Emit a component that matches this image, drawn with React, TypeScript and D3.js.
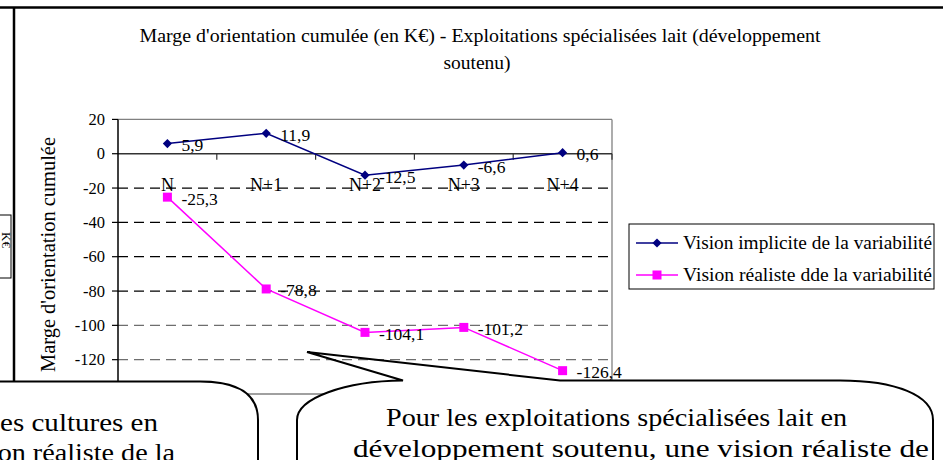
import React from "react";
import * as d3 from "d3";

// ---- data ----
const categories = ["N", "N+1", "N+2", "N+3", "N+4"];
const implicitValues = [5.9, 11.9, -12.5, -6.6, 0.6];
const realisticValues = [-25.3, -78.8, -104.1, -101.2, -126.4];
const seriesNames = [
  "Vision implicite de la variabilité",
  "Vision réaliste dde la variabilité",
];
const yTickValues = [20, 0, -20, -40, -60, -80, -100, -120, -140];
const gridValues = [-20, -40, -60, -80, -100, -120];
const titleLines = [
  "Marge d'orientation cumulée (en K€) - Exploitations spécialisées lait (développement",
  "soutenu)",
];
const yAxisTitle = "Marge d'orientation cumulée";
const rightCalloutLines = [
  "Pour les exploitations spécialisées lait en",
  "développement soutenu, une vision réaliste de",
];
const leftCalloutLines = ["les cultures en", "vision réaliste de la"];

const W = 943;
const H = 460;
const FONT = "'Liberation Serif', 'Times New Roman', serif";
const BLUE = "#000080";
const PINK = "#FF00FF";

const fmt = (v: number) => d3.format(".1f")(v).replace(".", ",").replace("−", "-");

export default function App() {
  const x = d3.scaleBand<string>().domain(categories).range([118, 612]).padding(0);
  const y = d3.scaleLinear().domain([-140, 20]).range([394, 119.4]);
  const cx = (c: string) => (x(c) as number) + x.bandwidth() / 2;

  const line = d3
    .line<number>()
    .x((_, i) => cx(categories[i]))
    .y((v) => y(v));

  const diamondType = (d3 as any).symbolDiamond2 || d3.symbolDiamond;
  const diamond = d3.symbol().type(diamondType).size(54)() as string;
  const square = d3.symbol().type(d3.symbolSquare).size(81)() as string;

  const series = [
    { name: seriesNames[0], values: implicitValues, color: BLUE, marker: diamond },
    { name: seriesNames[1], values: realisticValues, color: PINK, marker: square },
  ];

  const y0 = y(0);
  const step = x.step();

  return (
    <svg
      width={W}
      height={H}
      viewBox={`0 0 ${W} ${H}`}
      style={{ position: "absolute", left: 0, top: 0, background: "#fff" }}
      fontFamily={FONT}
    >
      <rect x={0} y={0} width={W} height={H} fill="#fff" />

      {/* document frame */}
      <line x1={0} x2={W} y1={7.5} y2={7.5} stroke="#000" strokeWidth={2.5} />
      <line x1={14} x2={14} y1={7.5} y2={385} stroke="#000" strokeWidth={2.5} />

      {/* small box fragment at far left */}
      <rect x={-2} y={215} width={13} height={63} fill="#fff" stroke="#000" strokeWidth={1} />
      <text
        transform="translate(2,232) rotate(90)"
        fontSize={13}
        fill="#000"
      >
        K€
      </text>

      {/* title */}
      <text x={480} y={41.7} textAnchor="middle" fontSize={19.5} textLength={681} lengthAdjust="spacingAndGlyphs">
        {titleLines[0]}
      </text>
      <text x={477} y={68.5} textAnchor="middle" fontSize={19.5}>
        {titleLines[1]}
      </text>

      {/* y axis title */}
      <text
        transform="translate(55,254.5) rotate(-90)"
        textAnchor="middle"
        fontSize={20}
        textLength={235}
        lengthAdjust="spacingAndGlyphs"
      >
        {yAxisTitle}
      </text>

      {/* plot border (gray) */}
      <line x1={118} x2={612} y1={y(20)} y2={y(20)} stroke="#808080" strokeWidth={1.3} />
      <line x1={612} x2={612} y1={y(20)} y2={y(-140)} stroke="#808080" strokeWidth={1.3} />
      <line x1={118} x2={612} y1={y(-140)} y2={y(-140)} stroke="#808080" strokeWidth={1.3} />

      {/* gridlines */}
      {gridValues.map((v) => (
        <line
          key={v}
          x1={118}
          x2={612}
          y1={y(v)}
          y2={y(v)}
          stroke={v >= -80 ? "#000" : "#6e6e6e"}
          strokeWidth={1.2}
          strokeDasharray="10,6"
        />
      ))}

      {/* zero (category) axis */}
      <line x1={118} x2={612} y1={y0} y2={y0} stroke="#333" strokeWidth={1.3} />
      {d3.range(1, categories.length + 1).map((i) => (
        <line
          key={i}
          x1={118 + i * step}
          x2={118 + i * step}
          y1={y0}
          y2={y0 + 6}
          stroke="#333"
          strokeWidth={1.2}
        />
      ))}

      {/* y axis */}
      <line x1={118} x2={118} y1={y(20)} y2={y(-140)} stroke="#000" strokeWidth={1.5} />
      {yTickValues.map((v) => (
        <g key={v}>
          <line x1={112} x2={118} y1={y(v)} y2={y(v)} stroke="#000" strokeWidth={1.2} />
          <text x={105} y={y(v) + 5.6} textAnchor="end" fontSize={16.5}>
            {String(v)}
          </text>
        </g>
      ))}

      {/* category labels */}
      {categories.map((c) => (
        <text key={c} x={cx(c)} y={190.7} textAnchor="middle" fontSize={18}>
          {c}
        </text>
      ))}

      {/* series */}
      {series.map((s) => (
        <g key={s.name}>
          <path d={line(s.values) as string} fill="none" stroke={s.color} strokeWidth={1.5} />
          {s.values.map((v, i) => (
            <path
              key={i}
              d={s.marker}
              transform={`translate(${cx(categories[i])},${y(v)})`}
              fill={s.color}
            />
          ))}
          {s.values.map((v, i) => (
            <text
              key={"l" + i}
              x={cx(categories[i]) + 14}
              y={y(v) + 7.5}
              fontSize={17.5}
              fill="#000"
            >
              {fmt(v)}
            </text>
          ))}
        </g>
      ))}

      {/* legend */}
      <rect x={629} y={224} width={305} height={65} fill="#fff" stroke="#000" strokeWidth={1} />
      {series.map((s, i) => {
        const ly = 243 + i * 32;
        return (
          <g key={s.name}>
            <line x1={636} x2={678} y1={ly} y2={ly} stroke={s.color} strokeWidth={1.5} />
            <path d={s.marker} transform={`translate(657,${ly})`} fill={s.color} />
            <text x={683} y={ly + 5.5} fontSize={19.5} textLength={249} lengthAdjust="spacingAndGlyphs">
              {s.name}
            </text>
          </g>
        );
      })}

      {/* left callout bubble */}
      <path
        d="M -5,381.5 H 200 C 240,381.5 258,395 258,420 V 470 H -5 Z"
        fill="#fff"
        stroke="#000"
        strokeWidth={2}
      />
      <text x={-8} y={430.5} fontSize={26} textLength={166} lengthAdjust="spacingAndGlyphs">
        {leftCalloutLines[0]}
      </text>
      <text x={-43} y={461} fontSize={26} textLength={218} lengthAdjust="spacingAndGlyphs">
        {leftCalloutLines[1]}
      </text>

      {/* right callout bubble */}
      <path
        d="M 560,380.5 H 840 C 895,380.5 933,395 933,420 V 470 H 297 V 420 C 297,398 345,381 403,380.5 Z"
        fill="#fff"
        stroke="none"
      />
      <path
        d="M 297,470 V 420 C 297,398 345,381 403,380.5 L 307,352 L 560,380.5 H 840 C 895,380.5 933,395 933,420 V 470"
        fill="none"
        stroke="#000"
        strokeWidth={2}
        strokeLinejoin="miter"
      />
      <text x={386} y={426} fontSize={26} textLength={461} lengthAdjust="spacingAndGlyphs">
        {rightCalloutLines[0]}
      </text>
      <text x={353} y={457} fontSize={26} textLength={576} lengthAdjust="spacingAndGlyphs">
        {rightCalloutLines[1]}
      </text>
    </svg>
  );
}
